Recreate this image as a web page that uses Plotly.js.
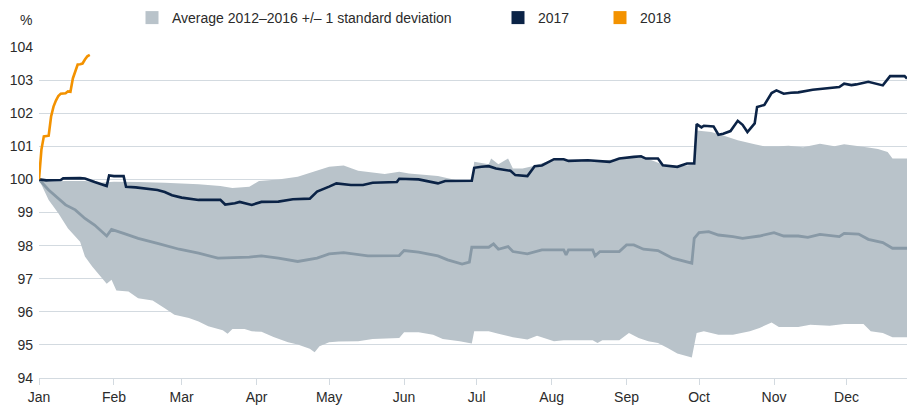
<!DOCTYPE html>
<html>
<head>
<meta charset="utf-8">
<script src="https://cdn.plot.ly/plotly-3.0.1.min.js"></script>
<style>html,body{margin:0;padding:0;background:#fff;}#chart{width:907px;height:405px;}</style>
</head>
<body>
<div id="chart"></div>
<script>
// All series are drawn on a common calendar (2017 dates used as day-of-year positions)
const monthTicks = ["2017-01-01","2017-02-01","2017-03-01","2017-04-01","2017-05-01","2017-06-01","2017-07-01","2017-08-01","2017-09-01","2017-10-01","2017-11-01","2017-12-01"];
const monthLabels = ["Jan","Feb","Mar","Apr","May","Jun","Jul","Aug","Sep","Oct","Nov","Dec"];
const yTicks = [94,95,96,97,98,99,100,101,102,103,104];

const bandName = "Average 2012–2016 +/– 1 standard deviation";
const name2017 = "2017";
const name2018 = "2018";

const upperDates = ["2017-01-01","2017-01-05","2017-01-12","2017-01-20","2017-01-26","2017-02-01","2017-02-11","2017-02-22","2017-03-08","2017-03-17","2017-03-22","2017-03-29","2017-04-02","2017-04-10","2017-04-18","2017-04-25","2017-05-01","2017-05-07","2017-05-13","2017-05-24","2017-05-30","2017-06-03","2017-06-15","2017-06-26","2017-06-29","2017-06-30","2017-07-03","2017-07-06","2017-07-07","2017-07-10","2017-07-14","2017-07-16","2017-07-20","2017-07-24","2017-08-02","2017-08-12","2017-08-19","2017-08-29","2017-09-06","2017-09-10","2017-09-16","2017-09-22","2017-09-29","2017-09-30","2017-10-06","2017-10-11","2017-10-17","2017-10-24","2017-10-28","2017-11-03","2017-11-07","2017-11-13","2017-11-20","2017-11-26","2017-11-30","2017-12-10","2017-12-14","2017-12-18","2017-12-20","2017-12-26"];
const upperValues = [100,99.93,99.95,99.95,99.9,99.93,99.92,99.9,99.85,99.8,99.74,99.78,99.95,100.0,100.08,100.23,100.38,100.42,100.26,100.16,100.23,100.18,100.1,99.92,99.95,100.53,100.5,100.46,100.63,100.46,100.63,100.33,100.33,100.4,100.6,100.58,100.55,100.62,100.7,100.62,100.45,100.38,100.45,101.48,101.43,101.33,101.18,101.06,101.0,101.0,101.02,100.97,101.08,101.0,101.06,100.96,100.92,100.83,100.63,100.63];

const lowerDates = ["2017-01-01","2017-01-05","2017-01-09","2017-01-13","2017-01-18","2017-01-20","2017-01-23","2017-01-26","2017-01-29","2017-01-31","2017-02-02","2017-02-07","2017-02-11","2017-02-17","2017-02-22","2017-02-26","2017-03-04","2017-03-08","2017-03-12","2017-03-18","2017-03-20","2017-03-22","2017-03-27","2017-03-30","2017-04-03","2017-04-08","2017-04-14","2017-04-18","2017-04-23","2017-04-25","2017-04-27","2017-05-01","2017-05-05","2017-05-13","2017-05-19","2017-05-30","2017-06-01","2017-06-07","2017-06-13","2017-06-17","2017-06-24","2017-06-29","2017-06-30","2017-07-06","2017-07-10","2017-07-16","2017-07-22","2017-07-26","2017-08-02","2017-08-06","2017-08-18","2017-08-20","2017-08-22","2017-08-29","2017-09-02","2017-09-06","2017-09-10","2017-09-14","2017-09-18","2017-09-22","2017-09-27","2017-09-28","2017-09-30","2017-10-03","2017-10-09","2017-10-15","2017-10-22","2017-10-26","2017-10-31","2017-11-03","2017-11-11","2017-11-16","2017-11-24","2017-11-30","2017-12-08","2017-12-11","2017-12-16","2017-12-20","2017-12-26"];
const lowerValues = [100,99.38,98.98,98.52,98.12,97.67,97.37,97.1,96.85,96.97,96.64,96.61,96.41,96.34,96.11,95.91,95.81,95.71,95.56,95.44,95.34,95.48,95.48,95.41,95.4,95.24,95.08,95.01,94.88,94.78,94.96,95.08,95.1,95.11,95.18,95.21,95.38,95.38,95.31,95.18,95.11,95.04,95.41,95.41,95.34,95.23,95.16,95.28,95.11,95.14,95.14,95.06,95.14,95.14,95.36,95.21,95.11,95.06,94.91,94.74,94.64,94.62,95.36,95.41,95.31,95.31,95.41,95.51,95.68,95.54,95.54,95.61,95.58,95.63,95.63,95.41,95.36,95.23,95.23];

const meanDates = ["2017-01-01","2017-01-05","2017-01-12","2017-01-16","2017-01-20","2017-01-24","2017-01-29","2017-01-31","2017-02-05","2017-02-11","2017-02-19","2017-02-28","2017-03-08","2017-03-12","2017-03-16","2017-03-29","2017-04-03","2017-04-10","2017-04-18","2017-04-26","2017-05-01","2017-05-07","2017-05-17","2017-05-30","2017-06-01","2017-06-07","2017-06-15","2017-06-19","2017-06-25","2017-06-28","2017-06-29","2017-07-06","2017-07-08","2017-07-10","2017-07-14","2017-07-16","2017-07-22","2017-07-28","2017-08-06","2017-08-07","2017-08-08","2017-08-18","2017-08-19","2017-08-21","2017-08-29","2017-09-01","2017-09-04","2017-09-08","2017-09-14","2017-09-20","2017-09-28","2017-09-29","2017-10-01","2017-10-05","2017-10-09","2017-10-15","2017-10-19","2017-10-26","2017-11-01","2017-11-05","2017-11-11","2017-11-15","2017-11-20","2017-11-28","2017-11-30","2017-12-06","2017-12-10","2017-12-16","2017-12-20","2017-12-26"];
const meanValues = [100,99.68,99.23,99.08,98.82,98.62,98.29,98.49,98.37,98.22,98.07,97.89,97.77,97.69,97.62,97.65,97.69,97.62,97.52,97.62,97.75,97.79,97.69,97.7,97.85,97.8,97.69,97.57,97.44,97.5,97.95,97.95,98.05,97.89,97.97,97.82,97.75,97.87,97.87,97.72,97.87,97.87,97.69,97.82,97.82,98.02,98.02,97.89,97.85,97.62,97.47,98.22,98.39,98.42,98.32,98.27,98.22,98.29,98.39,98.29,98.29,98.25,98.34,98.27,98.37,98.35,98.19,98.09,97.92,97.92];

const dates2017 = ["2017-01-01","2017-01-04","2017-01-10","2017-01-11","2017-01-18","2017-01-20","2017-01-24","2017-01-26","2017-01-29","2017-01-30","2017-02-01","2017-02-05","2017-02-06","2017-02-10","2017-02-19","2017-02-22","2017-02-25","2017-03-01","2017-03-08","2017-03-17","2017-03-19","2017-03-23","2017-03-25","2017-03-30","2017-04-03","2017-04-10","2017-04-16","2017-04-23","2017-04-26","2017-05-01","2017-05-04","2017-05-10","2017-05-15","2017-05-19","2017-05-29","2017-05-30","2017-06-07","2017-06-15","2017-06-18","2017-06-29","2017-06-30","2017-07-03","2017-07-06","2017-07-09","2017-07-15","2017-07-17","2017-07-22","2017-07-25","2017-07-28","2017-08-02","2017-08-06","2017-08-08","2017-08-16","2017-08-25","2017-08-29","2017-09-04","2017-09-07","2017-09-09","2017-09-14","2017-09-16","2017-09-22","2017-09-26","2017-09-29","2017-09-30","2017-10-02","2017-10-03","2017-10-07","2017-10-09","2017-10-11","2017-10-14","2017-10-17","2017-10-19","2017-10-21","2017-10-24","2017-10-25","2017-10-28","2017-10-31","2017-11-02","2017-11-05","2017-11-08","2017-11-11","2017-11-17","2017-11-28","2017-11-30","2017-12-03","2017-12-05","2017-12-08","2017-12-10","2017-12-16","2017-12-19","2017-12-25","2017-12-26"];
const values2017 = [100,99.97,99.98,100.03,100.04,100.03,99.92,99.88,99.8,100.12,100.1,100.1,99.78,99.76,99.68,99.62,99.52,99.45,99.38,99.38,99.24,99.28,99.32,99.23,99.32,99.33,99.4,99.42,99.63,99.78,99.88,99.83,99.83,99.9,99.92,100.02,100.0,99.88,99.95,99.96,100.35,100.38,100.4,100.33,100.26,100.13,100.1,100.4,100.42,100.61,100.61,100.56,100.58,100.53,100.63,100.68,100.7,100.63,100.63,100.43,100.38,100.48,100.48,101.67,101.57,101.62,101.6,101.35,101.38,101.46,101.77,101.65,101.43,101.69,102.19,102.25,102.61,102.69,102.59,102.62,102.63,102.71,102.79,102.89,102.85,102.87,102.91,102.95,102.84,103.12,103.12,103.05];

const dates2018 = ["2017-01-01","2017-01-02","2017-01-03","2017-01-04","2017-01-05","2017-01-06","2017-01-07","2017-01-08","2017-01-09","2017-01-10","2017-01-11","2017-01-12","2017-01-13","2017-01-14","2017-01-15","2017-01-16","2017-01-17","2017-01-18","2017-01-19","2017-01-20","2017-01-21","2017-01-22"];
const values2018 = [100,100.9,101.3,101.3,101.32,101.9,102.2,102.38,102.52,102.59,102.6,102.6,102.66,102.65,103.05,103.3,103.47,103.48,103.5,103.62,103.72,103.76];

const cBand = "#b9c3ca", cMean = "#8899a6", cNavy = "#0b2346", cOrange = "#f39200";
const cGrid = "#d3dae0", cText = "#2b2b2b";
const font = "Liberation Sans, Arial, sans-serif";

const traces = [
  {x: upperDates.concat(lowerDates.slice().reverse()), y: upperValues.concat(lowerValues.slice().reverse()),
   type:"scatter", mode:"lines", fill:"toself", fillcolor:cBand, line:{width:0, color:cBand},
   showlegend:false, hoverinfo:"skip"},
  {x: meanDates, y: meanValues, type:"scatter", mode:"lines", line:{color:cMean, width:2.8}, showlegend:false},
  {x: dates2017, y: values2017, type:"scatter", mode:"lines", line:{color:cNavy, width:2.6}, showlegend:false},
  {x: dates2018, y: values2018, type:"scatter", mode:"lines", line:{color:cOrange, width:2.6}, showlegend:false},
  {x:[null], y:[null], type:"scatter", mode:"markers", name:bandName, marker:{symbol:"square", size:13, color:cBand}, legend:"legend"},
  {x:[null], y:[null], type:"scatter", mode:"markers", name:name2017, marker:{symbol:"square", size:13, color:cNavy}, legend:"legend2"},
  {x:[null], y:[null], type:"scatter", mode:"markers", name:name2018, marker:{symbol:"square", size:13, color:cOrange}, legend:"legend3"}
];

const legBase = {xref:"container", yref:"container", yanchor:"middle", y:1-18/405, xanchor:"left",
  font:{family:font, size:14, color:cText}, bgcolor:"rgba(0,0,0,0)", itemwidth:30, orientation:"h"};

const layout = {
  width:907, height:405,
  margin:{l:39, r:0, t:46.5, b:26.5, pad:0},
  paper_bgcolor:"#fff", plot_bgcolor:"#fff",
  font:{family:font, size:14, color:cText},
  xaxis:{type:"date", range:["2017-01-01","2017-12-26"], tickvals:monthTicks, ticktext:monthLabels,
    showgrid:false, zeroline:false, showline:true, linecolor:cGrid, linewidth:1,
    ticks:"outside", ticklen:6, tickcolor:cGrid, tickwidth:1, tickfont:{family:font, size:14, color:cText}, fixedrange:true},
  yaxis:{range:[94,104], tickvals:yTicks, showgrid:true, gridcolor:cGrid, gridwidth:1.2, zeroline:false, showline:false,
    ticks:"", ticklabelstandoff:5, tickfont:{family:font, size:14, color:cText}, fixedrange:true},
  legend: Object.assign({}, legBase, {x:132/907}),
  legend2: Object.assign({}, legBase, {x:498/907}),
  legend3: Object.assign({}, legBase, {x:600/907}),
  annotations:[{text:"%", xref:"paper", yref:"paper", x:(26-39)/868, y:1+(46.5-19)/332, xanchor:"center", yanchor:"middle",
    showarrow:false, font:{family:font, size:14, color:cText}}],
  showlegend:true
};

Plotly.newPlot("chart", traces, layout, {displayModeBar:false, staticPlot:true});
</script>
</body>
</html>
